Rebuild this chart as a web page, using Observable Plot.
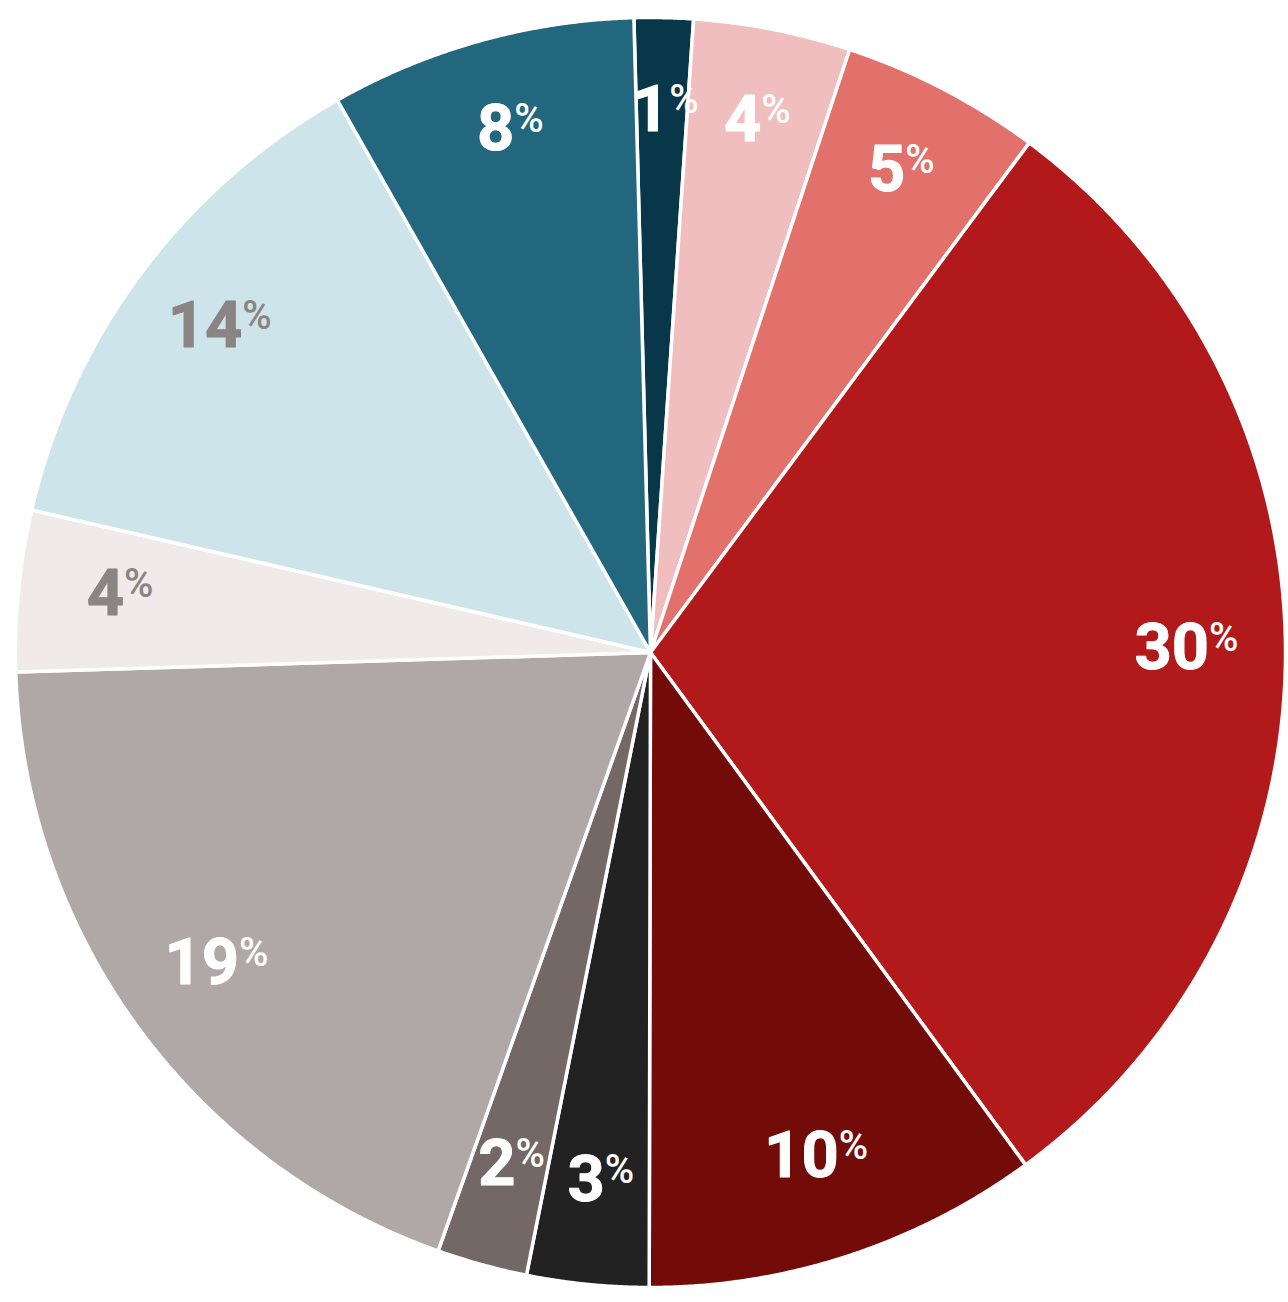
<!DOCTYPE html>
<html>
<head>
<meta charset="utf-8">
<script src="https://cdn.jsdelivr.net/npm/d3@7"></script>
<script src="https://cdn.jsdelivr.net/npm/@observablehq/plot@0.6"></script>
<style>
  html, body { margin: 0; padding: 0; background: #ffffff; }
  #chart svg { display: block; }
</style>
</head>
<body>
<div id="chart"></div>
<script>
// Slices, clockwise from 12 o'clock
const labels = ["1", "4", "5", "30", "10", "3", "2", "19", "4", "14", "8"];
const values = [1.5, 4.0, 5.1, 29.8, 10.1, 3.1, 2.3, 19.1, 4.1, 13.2, 7.8];
const colors = ["#08374a", "#f0bebe", "#e2706b", "#b2191b", "#730b09", "#222222",
                "#736866", "#b0a8a7", "#f0eaea", "#cde5ea", "#22677e"];
const labelColors = ["#ffffff", "#ffffff", "#ffffff", "#ffffff", "#ffffff", "#ffffff",
                     "#ffffff", "#ffffff", "#8a8483", "#8a8483", "#ffffff"];

const W = 1288, H = 1302;
const cx = 650, cy = 652, R = 635;
const start = -1.5 * Math.PI / 180;

const arcs = d3.pie().sort(null).startAngle(start).endAngle(start + 2 * Math.PI)(values);

// Polygon points for each slice (center + arc)
const pts = [];
arcs.forEach((a, i) => {
  pts.push({i, x: 0, y: 0, c: colors[i]});
  const n = Math.max(2, Math.ceil((a.endAngle - a.startAngle) / 0.004));
  for (let k = 0; k <= n; k++) {
    const t = a.startAngle + (a.endAngle - a.startAngle) * k / n;
    pts.push({i, x: Math.sin(t), y: Math.cos(t), c: colors[i]});
  }
});

// Label anchor points
const numFont = 65, pctFont = 40;
const digitW = 29, pctW = 26;
const lab = arcs.map((a, i) => {
  const m = (a.startAngle + a.endAngle) / 2;
  const r = 0.845;
  const numW = labels[i].length * digitW;
  const shift = (numW - pctW) / 2 / R;
  return {
    x: r * Math.sin(m) + shift,
    y: r * Math.cos(m),
    t: labels[i],
    c: labelColors[i]
  };
});

const chart = Plot.plot({
  width: W,
  height: H,
  margin: 0,
  x: {domain: [-cx / R, (W - cx) / R], range: [0, W], axis: null},
  y: {domain: [-(H - cy) / R, cy / R], range: [H, 0], axis: null},
  color: {type: "identity"},
  style: {background: "transparent"},
  marks: [
    Plot.line(pts, {
      x: "x", y: "y", z: "i", fill: "c",
      stroke: "white", strokeWidth: 3.5, strokeLinejoin: "round",
      curve: "linear-closed"
    }),
    Plot.text(lab, {
      x: "x", y: "y", text: "t", fill: "c", stroke: "c", strokeWidth: 1,
      textAnchor: "end", fontSize: numFont, fontWeight: 700, dx: 6, dy: -6,
      fontFamily: "Roboto, 'Noto Sans', sans-serif",
      style: "letter-spacing:-5px"
    }),
    Plot.text(lab, {
      x: "x", y: "y", text: d => "%", fill: "c",
      textAnchor: "start", fontSize: pctFont, fontWeight: 500, dx: 6, dy: -16,
      fontFamily: "Roboto, 'Noto Sans', sans-serif",
      style: "letter-spacing:-3px"
    })
  ]
});

document.getElementById("chart").appendChild(chart);
</script>
</body>
</html>
